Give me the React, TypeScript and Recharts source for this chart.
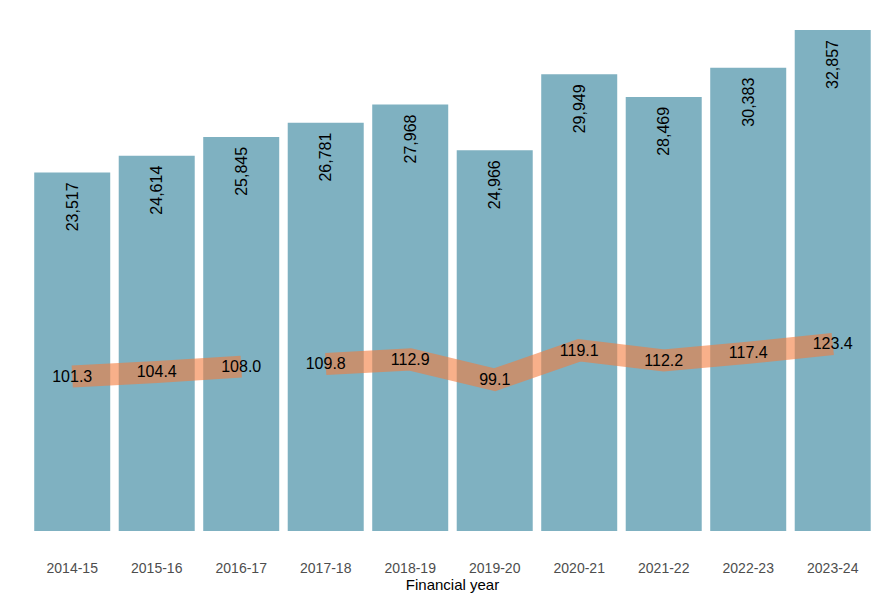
import { ComposedChart, Bar, Line, XAxis, YAxis, LabelList } from 'recharts';

const years = ['2014-15', '2015-16', '2016-17', '2017-18', '2018-19', '2019-20', '2020-21', '2021-22', '2022-23', '2023-24'];
const amounts = [23517, 24614, 25845, 26781, 27968, 24966, 29949, 28469, 30383, 32857];
const index = [101.3, 104.4, 108.0, 109.8, 112.9, 99.1, 119.1, 112.2, 117.4, 123.4];
// the line is broken between 2016-17 and 2017-18
const breakAt = 3;

const data = years.map((year, i) => ({
    year,
    amount: amounts[i],
    early: i < breakAt ? index[i] : null,
    late: i >= breakAt ? index[i] : null,
}));

const font = '"Liberation Sans", Arial, sans-serif';

const BarValue = (props: any) => {
    const { x, y, width, value } = props;
    const cx = x + width / 2;
    const top = y + 10;
    return (
        <text
            transform={`translate(${cx},${top}) rotate(-90)`}
            textAnchor="end"
            dominantBaseline="central"
            fontSize={16}
            fontFamily={font}
            fill="#000"
        >
            {Number(value).toLocaleString('en-US')}
        </text>
    );
};

const LineValue = (props: any) => {
    const { x, y, value } = props;
    if (value == null || y == null) return null;
    return (
        <text x={x} y={y} textAnchor="middle" dominantBaseline="central" fontSize={16} fontFamily={font} fill="#000">
            {Number(value).toFixed(1)}
        </text>
    );
};

const App = () => {
    return (
        <div style={{ position: 'absolute', left: 0, top: 0 }}>
            <ComposedChart width={890} height={600} data={data} margin={{ top: 30, right: 15, bottom: 0, left: 30 }} barCategoryGap="5%">
                <XAxis
                    dataKey="year"
                    axisLine={false}
                    tickLine={false}
                    tickSize={0}
                    tickMargin={32}
                    height={69}
                    interval={0}
                    tick={{ fill: '#4D4D4D', fontSize: 14, fontFamily: font }}
                    label={{ value: 'Financial year', position: 'insideBottom', offset: 10, fill: '#000', fontSize: 15, fontFamily: font }}
                />
                <YAxis yAxisId="amt" hide domain={[0, 32857]} allowDataOverflow />
                <YAxis yAxisId="idx" hide orientation="right" domain={[-3.76, 336.9]} allowDataOverflow />
                <Bar yAxisId="amt" dataKey="amount" fill="#7FB1C1" isAnimationActive={false}>
                    <LabelList dataKey="amount" content={BarValue} />
                </Bar>
                <Line yAxisId="idx" type="linear" dataKey="early" stroke="rgb(243,123,60)" strokeOpacity={0.6} strokeWidth={22} dot={false} activeDot={false} isAnimationActive={false}>
                    <LabelList dataKey="early" content={LineValue} />
                </Line>
                <Line yAxisId="idx" type="linear" dataKey="late" stroke="rgb(243,123,60)" strokeOpacity={0.6} strokeWidth={22} dot={false} activeDot={false} isAnimationActive={false}>
                    <LabelList dataKey="late" content={LineValue} />
                </Line>
            </ComposedChart>
        </div>
    );
};

export default App;
